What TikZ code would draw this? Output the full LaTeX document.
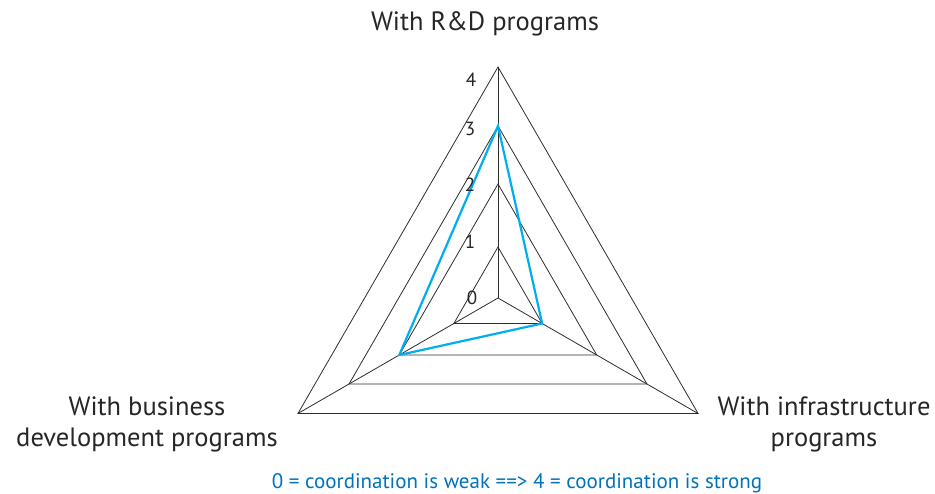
\documentclass[tikz,border=0pt]{standalone}
\usepackage{fontspec}
\setmainfont{PT Sans}
\usetikzlibrary{calc}
\definecolor{gridline}{RGB}{45,45,45}
\definecolor{score}{RGB}{0,174,239}
\definecolor{caption}{RGB}{0,114,188}
\tikzset{
  ring/.style={draw=gridline, line width=0.8pt, line join=miter},
  spoke/.style={draw=gridline, line width=0.8pt},
  profile/.style={draw=score, line width=2.2pt, line join=miter},
  axislabel/.style={font=\fontsize{26.5}{31}\selectfont, text=black!85, inner sep=0pt},
  levellabel/.style={font=\fontsize{19}{19}\selectfont, text=black!85, inner sep=0pt},
  legend/.style={font=\fontsize{21}{22}\selectfont, text=caption, inner sep=0pt}
}
\begin{document}
\begin{tikzpicture}[x=1pt,y=1pt]
  \useasboundingbox (0,0) rectangle (935,493);
  % centre of the chart
  \coordinate (c) at (498,195);
  % ring vertices: level k on the three axes (R&D, business, infrastructure)
  \foreach \k/\r in {1/51,2/114,3/172,4/231}{
    \coordinate (t\k) at ($(c)+(90:\r)$);
    \coordinate (l\k) at ($(c)+(210:\r)$);
    \coordinate (r\k) at ($(c)+(330:\r)$);
  }
  % rings
  \foreach \k in {1,2,3,4}{
    \draw[ring] (t\k) -- (l\k) -- (r\k) -- cycle;
  }
  % spokes
  \draw[spoke] (c) -- (t4);
  \draw[spoke] (c) -- (l4);
  \draw[spoke] (c) -- (r4);
  % scores: R&D 3, business 2, infrastructure 1
  \draw[profile] (t3) -- (l2) -- (r1) -- cycle;
  % level numbers
  \node[levellabel] (n4) at (471,413) {4};
  \node[levellabel] (n3) at (470,364) {3};
  \node[levellabel] (n2) at (470,308) {2};
  \node[levellabel] (n1) at (470,251) {1};
  \node[levellabel] (n0) at (472,195) {0};
  % axis names
  \node[axislabel] (rd) at (485,469) {With R\&D programs};
  \node[axislabel, align=center] (bus) at (147,68.5) {With business\\development programs};
  \node[axislabel, align=center] (inf) at (824,69) {With infrastructure\\programs};
  % legend
  \node[legend] (key) at (517,10) {0 = coordination is weak ==> 4 = coordination is strong};
\end{tikzpicture}
\end{document}
